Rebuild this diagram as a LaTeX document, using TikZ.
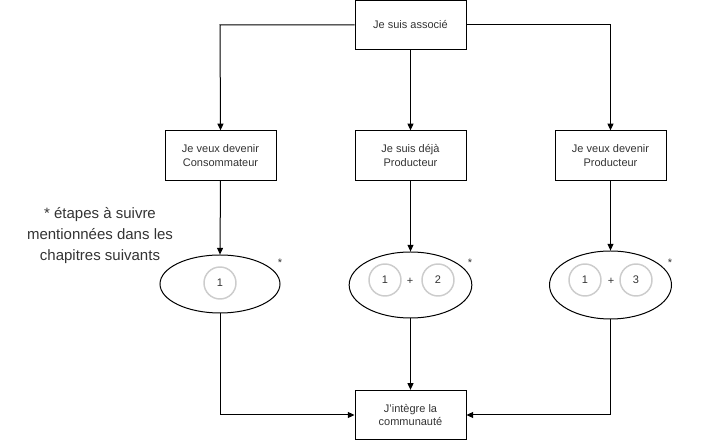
\documentclass[tikz,border=0pt]{standalone}
\usepackage{fontspec}
\setmainfont{Liberation Sans}
\usetikzlibrary{arrows.meta,shapes.geometric}
\definecolor{txt}{HTML}{333333}
\definecolor{ring}{HTML}{CCCCCC}
\begin{document}
\begin{tikzpicture}[x=0.75pt,y=-0.75pt,
  stepbox/.style={draw,line width=0.75pt,minimum width=83.25pt,minimum height=37pt,inner sep=0pt,align=center,font=\fontsize{8.25}{10}\selectfont,text=txt},
  oval/.style={draw,line width=0.75pt,ellipse,inner sep=0pt},
  numring/.style={draw=ring,line width=1.1pt,circle,minimum size=24pt,inner sep=0pt,font=\fontsize{8.25}{10}\selectfont,text=txt},
  star/.style={font=\fontsize{8.25}{10}\selectfont,text=txt,inner sep=0pt},
  conn/.style={line width=0.75pt,-{Triangle[length=5pt,width=4.5pt]}},
  plainline/.style={line width=0.75pt}]
\useasboundingbox (0,0) rectangle (701,441);
\node[stepbox] (top) at (410.5,25) {Je suis associé};
\node[stepbox] (cons) at (220.5,155.5) {Je veux devenir\\Consommateur};
\node[stepbox] (deja) at (410.5,155.5) {Je suis déjà\\Producteur};
\node[stepbox] (prod) at (610.5,155.5) {Je veux devenir\\Producteur};
\node[stepbox] (comm) at (410.5,415) {J'intègre la\\communauté};
\node[oval,minimum width=90pt,minimum height=43.5pt] (e1) at (220,284) {};
\node[oval,minimum width=92pt,minimum height=49.5pt] (e2) at (410.5,285) {};
\node[oval,minimum width=91.5pt,minimum height=51pt] (e3) at (610.5,285) {};
\node[numring] (c11) at (220,283) {1};
\node[numring] (c21) at (385,280) {1};
\node[star] (p2) at (410,281) {+};
\node[numring] (c22) at (438,280) {2};
\node[numring] (c31) at (585,280) {1};
\node[star] (p3) at (611,281) {+};
\node[numring] (c33) at (636,280) {3};
\node[star] (s1) at (280,263) {*};
\node[star] (s2) at (470,263) {*};
\node[star] (s3) at (670,263) {*};
\node[align=center,font=\fontsize{11.25}{15.75}\selectfont,text=txt,inner sep=0pt] (note) at (100,236) {* étapes à suivre\\mentionnées dans les\\chapitres suivants};
\coordinate (tl) at (220,25);
\coordinate (tr) at (610.5,25);
\coordinate (bl) at (220,415);
\coordinate (br) at (610.5,415);
\draw[conn] (top.west) -- (tl) -- (cons.north);
\draw[conn] (top.east) -- (tr) -- (prod.north);
\draw[conn] (top.south) -- (deja.north);
\draw[conn] (cons.south) -- (e1.north);
\draw[conn] (deja.south) -- (e2.north);
\draw[conn] (prod.south) -- (e3.north);
\draw[conn] (e1.south) -- (bl) -- (comm.west);
\draw[conn] (e2.south) -- (comm.north);
\draw[conn] (e3.south) -- (br) -- (comm.east);
\end{tikzpicture}
\end{document}
